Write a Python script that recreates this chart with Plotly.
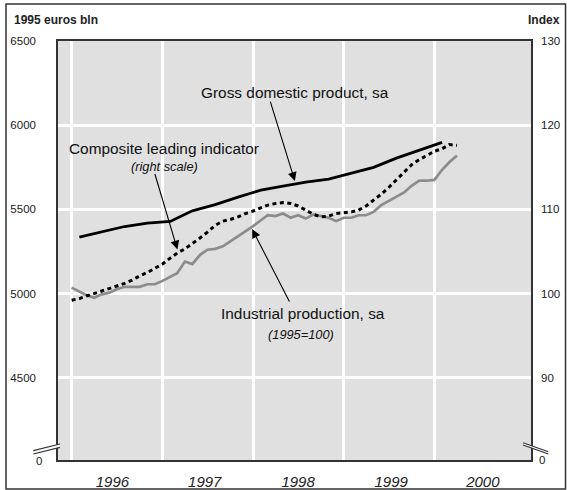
import plotly.graph_objects as go
import pandas as pd

# ---------------- data ----------------
gdp_dates = pd.date_range("1996-02-01", "2000-02-01", freq="3MS")
gdp_values = [5335, 5368, 5398, 5418, 5428, 5491, 5528, 5573, 5614, 5638,
              5662, 5680, 5715, 5749, 5804, 5852, 5898]

month_dates = pd.date_range("1996-01-01", "2000-04-01", freq="MS")
cli_values = [99.2, 99.4, 99.7, 100.0, 100.3, 100.6, 100.9, 101.2, 101.6, 102.1,
              102.5, 103.0, 103.5, 104.2, 104.8, 105.3, 105.9, 106.6, 107.3, 108.1,
              108.6, 108.8, 109.1, 109.5, 109.8, 110.2, 110.5, 110.7, 110.8, 110.7,
              110.4, 109.9, 109.4, 109.1, 109.2, 109.5, 109.6, 109.7, 109.9, 110.4,
              111.1, 111.8, 112.6, 113.5, 114.4, 115.3, 115.9, 116.4, 116.9, 117.2,
              117.7, 117.6]
ip_values = [100.7, 100.2, 99.8, 99.5, 99.9, 100.1, 100.5, 100.8, 100.8, 100.8,
             101.1, 101.1, 101.5, 102.0, 102.4, 103.8, 103.5, 104.6, 105.2, 105.3,
             105.6, 106.2, 106.8, 107.3, 108.0, 108.7, 109.3, 109.2, 109.5, 109.0,
             109.3, 108.9, 109.4, 109.2, 109.0, 108.6, 109.0, 109.0, 109.3, 109.3,
             109.7, 110.5, 111.0, 111.5, 112.0, 112.8, 113.4, 113.4, 113.5, 114.7,
             115.6, 116.4]

year_labels = ["1996", "1997", "1998", "1999", "2000"]
year_label_pos = ["1996-06-13", "1997-06-20", "1998-07-01", "1999-07-11", "2000-07-14"]
year_grid = ["1996-01-01", "1997-01-01", "1998-01-01", "1999-01-01", "2000-01-01"]
left_ticks = [4500, 5000, 5500, 6000, 6500]
right_ticks = [90, 100, 110, 120, 130]

FONT = "Arial, Liberation Sans, Helvetica, sans-serif"

fig = go.Figure()
fig.add_trace(go.Scatter(x=month_dates, y=ip_values, yaxis="y2", mode="lines",
                         line=dict(color="#8c8c8c", width=2.7), hoverinfo="skip"))
fig.add_trace(go.Scatter(x=month_dates, y=cli_values, yaxis="y2", mode="lines",
                         line=dict(color="#000000", width=3, dash="4px,3.5px"),
                         hoverinfo="skip"))
fig.add_trace(go.Scatter(x=gdp_dates, y=gdp_values, mode="lines",
                         line=dict(color="#000000", width=2.8), hoverinfo="skip"))

fig.update_layout(
    width=567, height=490,
    margin=dict(l=58, r=36, t=41, b=30, pad=0, autoexpand=False),
    paper_bgcolor="white", plot_bgcolor="#e0e0e0",
    showlegend=False,
    font=dict(family=FONT, color="#222222"),
    xaxis=dict(
        type="date", range=["1995-11-07", "2001-01-24"], automargin=False,
        tickmode="array", tickvals=year_label_pos, ticktext=year_labels,
        tickfont=dict(size=15, style="italic", color="#222222"),
        showgrid=False, ticks="", ticklabelstandoff=7,
        minor=dict(tickmode="array", tickvals=year_grid, showgrid=True,
                   gridcolor="white", gridwidth=2.5, ticks=""),
        showline=True, linecolor="#333333", linewidth=1.5, mirror=True,
        zeroline=False,
    ),
    yaxis=dict(
        range=[4011, 6500], automargin=False, tickmode="array", tickvals=left_ticks,
        tickfont=dict(size=11.5, color="#222222"),
        showgrid=True, gridcolor="white", gridwidth=2.5,
        ticks="", ticklabelstandoff=18,
        showline=True, linecolor="#333333", linewidth=1.5, mirror=True,
        zeroline=False,
    ),
    yaxis2=dict(
        range=[80.22, 130], overlaying="y", side="right", automargin=False,
        tickmode="array", tickvals=right_ticks,
        tickfont=dict(size=11.5, color="#222222"),
        showgrid=False, ticks="", ticklabelstandoff=9,
        showline=False, zeroline=False,
    ),
)

ann = []
# titles
ann.append(dict(text="<b>1995 euros bln</b>", xref="paper", yref="paper", x=-0.0979, y=1.050,
                xanchor="left", yanchor="middle", showarrow=False, font=dict(size=12)))
ann.append(dict(text="<b>Index</b>", xref="paper", yref="paper", x=1.066, y=1.050,
                xanchor="right", yanchor="middle", showarrow=False, font=dict(size=12)))
# zero labels
ann.append(dict(text="0", xref="paper", yref="paper", x=-0.0402, y=-0.0024,
                xanchor="center", yanchor="middle", showarrow=False, font=dict(size=11.5)))
ann.append(dict(text="0", xref="paper", yref="paper", x=1.0239, y=0.0,
                xanchor="center", yanchor="middle", showarrow=False, font=dict(size=11.5)))
# series labels
ann.append(dict(text="Gross domestic product, sa", x="1998-06-17", y=6197, xref="x", yref="y",
                showarrow=False, font=dict(size=15.4, color="#111111")))
ann.append(dict(text="Composite leading indicator", x="1997-01-05", y=5862, xref="x", yref="y",
                showarrow=False, font=dict(size=15.4, color="#111111")))
ann.append(dict(text="(right scale)", x="1997-01-07", y=5757, xref="x", yref="y",
                showarrow=False, font=dict(size=12.8, style="italic", color="#111111")))
ann.append(dict(text="Industrial production, sa", x="1998-07-19", y=4880, xref="x", yref="y",
                showarrow=False, font=dict(size=15.4, color="#111111")))
ann.append(dict(text="(1995=100)", x="1998-07-12", y=4758, xref="x", yref="y",
                showarrow=False, font=dict(size=12.8, style="italic", color="#111111")))
# arrows
arrow_style = dict(text="", showarrow=True, arrowhead=2, arrowsize=1.6, arrowwidth=1.1,
                   arrowcolor="#000000", standoff=0, startstandoff=0)
ann.append(dict(x="1998-06-18", y=5668, xref="x", yref="y", ax=-25, ay=-81, **arrow_style))
ann.append(dict(x="1997-03-02", y=105.23, xref="x", yref="y2", ax=-23, ay=-77, **arrow_style))
ann.append(dict(x="1997-12-28", y=107.65, xref="x", yref="y2", ax=38, ay=74, **arrow_style))
fig.update_layout(annotations=ann)

shapes = []
# outer frame
shapes.append(dict(type="rect", xref="paper", yref="paper", x0=-0.1099, x1=1.073,
                   y0=-0.0692, y1=1.0883, line=dict(color="#333333", width=1.5),
                   fillcolor="rgba(0,0,0,0)", layer="below"))
# axis break marks (left)
shapes.append(dict(type="path", xref="paper", yref="paper",
                   path="M -0.0522 0.0222 L 0.0042 0.0382 L 0.0042 0.0303 L -0.0522 0.0143 Z",
                   fillcolor="white", line=dict(width=0), layer="above"))
shapes.append(dict(type="line", xref="paper", yref="paper", x0=-0.0522, y0=0.0222, x1=0.0042, y1=0.0382,
                   line=dict(color="#333333", width=1.2), layer="above"))
shapes.append(dict(type="line", xref="paper", yref="paper", x0=-0.0522, y0=0.0143, x1=0.0042, y1=0.0303,
                   line=dict(color="#333333", width=1.2), layer="above"))
# axis break marks (right)
shapes.append(dict(type="path", xref="paper", yref="paper",
                   path="M 0.9831 0.0413 L 1.0366 0.0198 L 1.0366 0.0143 L 0.9831 0.0358 Z",
                   fillcolor="white", line=dict(width=0), layer="above"))
shapes.append(dict(type="line", xref="paper", yref="paper", x0=0.9831, y0=0.0413, x1=1.0366, y1=0.0198,
                   line=dict(color="#333333", width=1.2), layer="above"))
shapes.append(dict(type="line", xref="paper", yref="paper", x0=0.9831, y0=0.0358, x1=1.0366, y1=0.0143,
                   line=dict(color="#333333", width=1.2), layer="above"))
fig.update_layout(shapes=shapes)

fig.write_html(
    "out.html",
    config={"displayModeBar": False},
    post_script="document.body.style.margin='0';document.body.style.padding='0';"
                "document.body.style.overflow='hidden';",
)
